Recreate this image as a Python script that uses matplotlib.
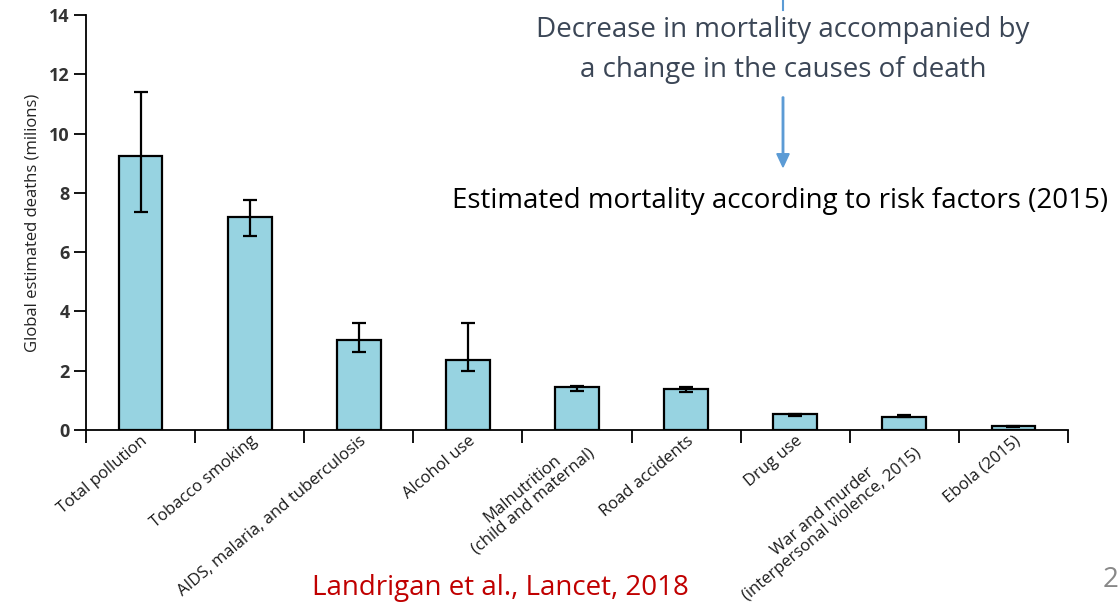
import numpy as np
import matplotlib.pyplot as plt

# data (millions of deaths, 2015)
causes = ["Total pollution", "Tobacco smoking", "AIDS, malaria, and tuberculosis",
          "Alcohol use", "Malnutrition\n(child and maternal)", "Road accidents",
          "Drug use", "War and murder\n(interpersonal violence, 2015)", "Ebola (2015)"]
deaths = [9.23, 7.2, 3.03, 2.35, 1.44, 1.38, 0.53, 0.43, 0.14]
err_low = [7.35, 6.56, 2.63, 2.0, 1.33, 1.27, 0.47, 0.43, 0.11]
err_high = [11.39, 7.76, 3.6, 3.6, 1.49, 1.44, 0.53, 0.5, 0.15]
yticks = [0, 2, 4, 6, 8, 10, 12, 14]

bar_color = "#97d3e1"
plt.rcParams['font.family'] = ['Open Sans', 'DejaVu Sans']

fig = plt.figure(figsize=(11.19, 6.03), dpi=100)
ax = fig.add_axes([0.0769, 0.2869, 0.8775, 0.6882])

x = np.arange(len(causes))
d = np.array(deaths)
yerr = [d - np.array(err_low), np.array(err_high) - d]
ax.bar(x, d, width=0.4, color=bar_color, edgecolor="black", linewidth=1.6, zorder=2)
ax.errorbar(x, d, yerr=yerr, fmt="none", ecolor="black", elinewidth=1.6,
            capsize=5, capthick=1.6, zorder=3)

ax.set_xlim(-0.5, len(causes) - 0.5)
ax.set_ylim(0, 14)
ax.spines["top"].set_visible(False)
ax.spines["right"].set_visible(False)
ax.spines["left"].set_linewidth(1.3)
ax.spines["bottom"].set_linewidth(1.3)

# boundary ticks on x, labels at bar centres
ax.set_xticks(np.arange(len(causes) + 1) - 0.5)
ax.set_xticklabels([])
ax.tick_params(axis="x", which="major", direction="out", length=9, width=1.3)
ax.set_xticks(x, causes, minor=True)
ax.tick_params(axis="x", which="minor", length=0, pad=2)
for lab in ax.get_xticklabels(minor=True):
    lab.set_rotation(40)
    lab.set_rotation_mode("anchor")
    lab.set_ha("right")
    lab.set_va("top")
    lab.set_multialignment("center")
    lab.set_fontsize(12)
    lab.set_color("#1a1a1a")
    lab.set_linespacing(1.0)

ax.set_yticks(yticks)
ax.tick_params(axis="y", direction="out", length=9, width=1.3, pad=3,
               labelsize=13, labelcolor="#333333")
for lab in ax.get_yticklabels():
    lab.set_fontweight("bold")
ax.set_ylabel("Global estimated deaths (milions)", fontsize=12, color="#222222", labelpad=6)

# annotation text on the slide
fig.text(783 / 1119, 1 - 30 / 603, "Decrease in mortality accompanied by",
         ha="center", va="center", fontsize=20, color="#3b4656")
fig.text(783 / 1119, 1 - 70 / 603, "a change in the causes of death",
         ha="center", va="center", fontsize=20, color="#3b4656")
fig.text(452 / 1119, 1 - 201 / 603, "Estimated mortality according to risk factors (2015)",
         ha="left", va="center", fontsize=20, color="black")
fig.text(500 / 1119, 1 - 588 / 603, "Landrigan et al., Lancet, 2018",
         ha="center", va="center", fontsize=20, color="#c00000")
fig.text(1.0, 1 - 580 / 603, "2", ha="right", va="center", fontsize=20, color="#888888")

fig.add_artist(plt.Line2D([783 / 1119, 783 / 1119], [1.0, 1 - 10 / 603], color="#5b9bd5", lw=1.5))
fig.patches.append(plt.matplotlib.patches.FancyArrow(
    783 / 1119, 1 - 97 / 603, 0, -(70 / 603), width=0.0013, head_width=0.011,
    head_length=0.022, length_includes_head=True, color="#5b9bd5",
    transform=fig.transFigure, figure=fig))

fig.savefig("out.png", dpi=100)
